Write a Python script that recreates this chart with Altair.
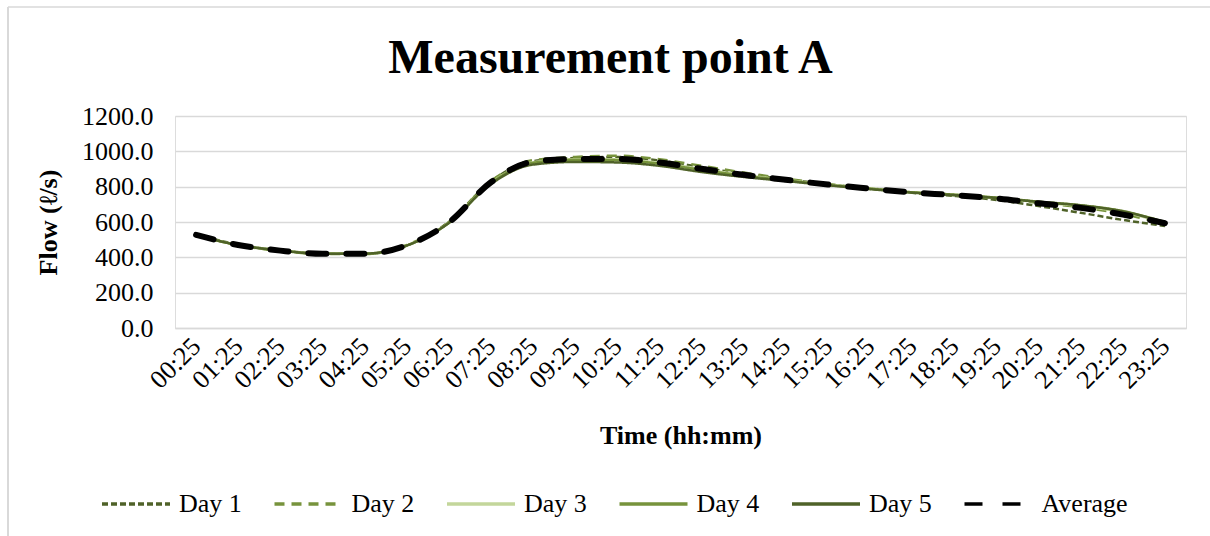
import altair as alt
import pandas as pd

times = ["00:25", "01:25", "02:25", "03:25", "04:25", "05:25", "06:25", "07:25",
         "08:25", "09:25", "10:25", "11:25", "12:25", "13:25", "14:25", "15:25",
         "16:25", "17:25", "18:25", "19:25", "20:25", "21:25", "22:25", "23:25"]

day1 = [530, 472, 440, 421, 420, 466, 600, 830, 945, 962, 968, 948, 910, 872, 842, 813, 788, 765, 748, 725, 690, 652, 612, 578]
day2 = [528, 468, 437, 419, 419, 470, 598, 832, 950, 968, 975, 955, 918, 880, 845, 815, 790, 768, 752, 735, 708, 683, 645, 590]
day3 = [525, 470, 440, 421, 421, 468, 595, 822, 938, 955, 955, 935, 900, 866, 838, 812, 790, 768, 754, 737, 712, 690, 655, 598]
day4 = [526, 469, 438, 420, 420, 467, 596, 820, 935, 952, 950, 930, 895, 862, 836, 810, 789, 768, 755, 738, 715, 695, 662, 600]
day5 = [525, 470, 439, 420, 421, 467, 594, 815, 925, 940, 937, 918, 883, 855, 832, 808, 786, 766, 752, 736, 714, 694, 660, 598]
average = [527, 470, 438, 420, 420, 468, 597, 825, 941, 957, 957, 937, 901, 867, 839, 812, 789, 767, 752, 733, 706, 680, 642, 593]

series_names = ["Day 1", "Day 2", "Day 3", "Day 4", "Day 5", "Average"]
series_values = [day1, day2, day3, day4, day5, average]
colors = ["#4F6228", "#77933C", "#C3D69B", "#77933C", "#4F6228", "#000000"]
dashes = [[6, 3], [10, 7], [1, 0], [1, 0], [1, 0], [18, 20]]

rows = []
for name, vals in zip(series_names, series_values):
    for t, v in zip(times, vals):
        rows.append({"time": t, "flow": v, "series": name})
df = pd.DataFrame(rows)

FONT = "Liberation Serif"

legend = alt.Legend(
    title=None, orient="none", legendX=-75, legendY=352, direction="horizontal",
    symbolType="stroke", symbolSize=4624, symbolStrokeWidth=3.5,
    labelFont=FONT, labelFontSize=26,
    labelColor="#000000", labelOffset=7, columnPadding=25.5, columns=6,
)

x = alt.X("time:O", sort=times, title="Time (hh:mm)",
          scale=alt.Scale(type="point", padding=0.5),
          axis=alt.Axis(labelAngle=315, labelAlign="right", labelBaseline="middle",
                        labelFont=FONT, labelFontSize=26, labelColor="#000000",
                        labelPadding=14, ticks=False, domain=True, domainColor="#d9d9d9",
                        domainWidth=1.5, grid=False,
                        titleFont=FONT, titleFontSize=26, titleFontWeight="bold",
                        titleColor="#000000", titleY=107, titleBaseline="middle"))
y = alt.Y("flow:Q", title="Flow (ℓ/s)",
          scale=alt.Scale(domain=[0, 1200], nice=False),
          axis=alt.Axis(values=[0, 200, 400, 600, 800, 1000, 1200], format=".1f",
                        labelFont=FONT, labelFontSize=26, labelColor="#000000",
                        labelPadding=22, ticks=False, domain=False,
                        grid=True, gridColor="#d9d9d9", gridWidth=1.5,
                        titleFont=FONT, titleFontSize=26, titleFontWeight="bold",
                        titleColor="#000000", titleAngle=270, titleX=-127, titleY=106,
                        titleAlign="center", titleBaseline="middle"))

color = alt.Color("series:N", scale=alt.Scale(domain=series_names, range=colors), legend=legend)
dash = alt.StrokeDash("series:N", scale=alt.Scale(domain=series_names, range=dashes), legend=legend)

base = alt.Chart(df).encode(x=x, y=y, color=color, strokeDash=dash)

days_layer = base.transform_filter(alt.datum.series != "Average").mark_line(
    interpolate="monotone", strokeWidth=2.5)
avg_layer = base.transform_filter(alt.datum.series == "Average").mark_line(
    interpolate="monotone", strokeCap="round", strokeWidth=6)

border_left = alt.Chart(pd.DataFrame({"a": [0]})).mark_rule(color="#d9d9d9", strokeWidth=2).encode(
    x=alt.value(-167), y=alt.value(-109), y2=alt.value(420))
border_top = alt.Chart(pd.DataFrame({"a": [0]})).mark_rule(color="#d9d9d9", strokeWidth=1.5).encode(
    x=alt.value(-167), x2=alt.value(1035), y=alt.value(-109))

chart = alt.layer(border_left, border_top, days_layer, avg_layer).properties(
    width=1011, height=212,
    title=alt.TitleParams("Measurement point A", font=FONT, fontSize=48, fontWeight="bold",
                          color="#000000", anchor="middle", dx=-70, offset=-115,
                          baseline="alphabetic"),
    autosize=alt.AutoSizeParams(type="none"),
    padding={"left": 175, "top": 116, "right": 24, "bottom": 208},
).configure_view(stroke=None).configure(background="#ffffff")

chart.save("out.html", embed_options={"renderer": "svg", "actions": False})
